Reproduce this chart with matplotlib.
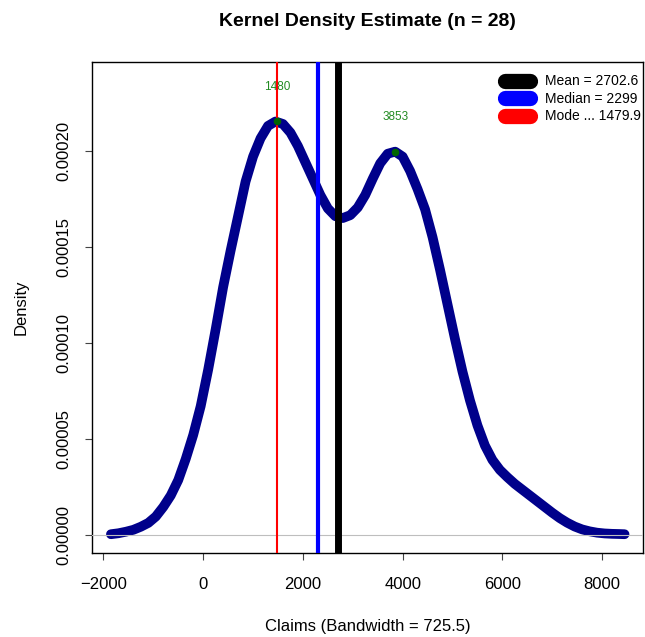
import matplotlib
matplotlib.use('Agg')
import matplotlib.pyplot as plt
from matplotlib.lines import Line2D

plt.rcParams['font.family'] = ['Liberation Sans', 'DejaVu Sans']

# density curve (x in claims, y in units of 1e-5)
dens_x = [-1850, -1700, -1550, -1400, -1250, -1100, -950, -800, -650, -500,
          -350, -200, -50, 100, 250, 400, 550, 700, 850, 1000,
          1150, 1300, 1450, 1600, 1750, 1900, 2050, 2200, 2350, 2500,
          2650, 2800, 2950, 3100, 3250, 3400, 3550, 3700, 3850, 4000,
          4150, 4300, 4450, 4600, 4750, 4900, 5050, 5200, 5350, 5500,
          5650, 5800, 5950, 6100, 6250, 6400, 6550, 6700, 6850, 7000,
          7150, 7300, 7450, 7600, 7750, 7900, 8050, 8200, 8350, 8450]
dens_y_e5 = [0.03, 0.08, 0.16, 0.26, 0.42, 0.62, 0.95, 1.45, 2.05, 2.85,
             3.95, 5.2, 6.7, 8.6, 10.7, 12.9, 14.8, 16.6, 18.4, 19.7,
             20.65, 21.3, 21.53, 21.4, 20.95, 20.25, 19.4, 18.55, 17.7, 17.0,
             16.6, 16.5, 16.65, 17.05, 17.7, 18.55, 19.35, 19.85, 19.96, 19.7,
             18.95, 18.0, 16.95, 15.5, 13.8, 12.0, 10.2, 8.5, 7.0, 5.7,
             4.65, 3.9, 3.38, 3.0, 2.65, 2.35, 2.05, 1.75, 1.45, 1.15,
             0.87, 0.63, 0.43, 0.28, 0.18, 0.11, 0.07, 0.05, 0.04, 0.03]
dens_y = [v * 1e-5 for v in dens_y_e5]

n = 28
bandwidth = 725.5
mean_val = 2702.6
median_val = 2299
mode_val = 1479.9
peak_x = [1480, 3853]
peak_y = [0.0002153, 0.0001996]

fig = plt.figure(figsize=(6.45, 6.37), dpi=100)
ax = fig.add_axes([0.1426, 0.1319, 0.8543, 0.7708])

ax.plot(dens_x, dens_y, color='#00008B', lw=7, solid_capstyle='round',
        solid_joinstyle='round', zorder=2)
ax.axhline(0, color='#bebebe', lw=0.8, zorder=3)

ax.axvline(mean_val, color='black', lw=5, zorder=4)
ax.axvline(median_val, color='blue', lw=3, zorder=4)
ax.axvline(mode_val, color='red', lw=1.5, zorder=4)

ax.scatter(peak_x, peak_y, s=30, color='#006400', zorder=5, linewidths=0)
for px, py in zip(peak_x, peak_y):
    ax.text(px, py + 0.0000178, str(px), color='#228B22', fontsize=8.5,
            ha='center', va='center')

ymax = max(dens_y) * 1.1
ax.set_ylim(-0.04 * ymax, 1.04 * ymax)
ax.set_xlim(-2230, 8820)

ax.set_xticks([-2000, 0, 2000, 4000, 6000, 8000])
ax.set_yticks([0, 0.00005, 0.0001, 0.00015, 0.0002])
ax.set_yticklabels(['0.00000', '0.00005', '0.00010', '0.00015', '0.00020'],
                   rotation=90, va='center')
ax.tick_params(axis='both', labelsize=12, length=5, width=0.8, color='#444444')
ax.tick_params(axis='x', pad=12)
ax.tick_params(axis='y', pad=10)
for s in ax.spines.values():
    s.set_linewidth(1)

ax.set_title('Kernel Density Estimate (n = ' + str(n) + ')', fontsize=14,
             fontweight='bold', pad=26)
ax.set_xlabel('Claims (Bandwidth = ' + str(bandwidth) + ')', fontsize=12,
              labelpad=20)
ax.set_ylabel('Density', fontsize=12, labelpad=20)

handles = [Line2D([], [], color=c, lw=11, solid_capstyle='round')
           for c in ['black', 'blue', 'red']]
labels = ['Mean = ' + str(mean_val), 'Median = ' + str(median_val),
          'Mode ... ' + str(mode_val)]
ax.legend(handles, labels, loc='upper right', frameon=False, fontsize=10,
          handlelength=1.8, handletextpad=1.05, labelspacing=0.25,
          borderaxespad=0.5, bbox_to_anchor=(1.018, 1.0))

fig.savefig('out.png', dpi=100)
